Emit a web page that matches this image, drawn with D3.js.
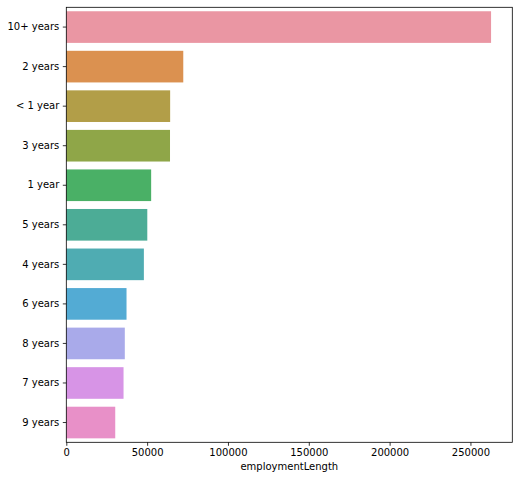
<!DOCTYPE html>
<html>
<head>
<meta charset="utf-8">
<script src="https://cdn.jsdelivr.net/npm/d3@7"></script>
<style>
  html, body { margin: 0; padding: 0; background: #fff; }
  svg { display: block; }
  text { font-family: "DejaVu Sans", sans-serif; }
</style>
</head>
<body>
<svg id="chart" width="519" height="480"></svg>
<script>
const categories = ["10+ years", "2 years", "< 1 year", "3 years", "1 year", "5 years", "4 years", "6 years", "8 years", "7 years", "9 years"];
const counts = [262753, 72358, 64237, 64152, 52489, 50102, 47985, 37254, 36192, 35407, 30272];
const barColors = ["#ea96a3", "#db9150", "#b29e48", "#8fa648", "#4ab066", "#4cac96", "#4facb2", "#53abd4", "#a9aaea", "#d794e6", "#e890c8"];
const xTicks = [0, 50000, 100000, 150000, 200000, 250000];
const xLabel = "employmentLength";

(function () {
const svg = d3.select("#chart");
const mLeft = 66.3, mRight = 512.3, mTop = 7.3, mBottom = 442.3;

const x = d3.scaleLinear().domain([0, d3.max(counts) * 1.05]).range([mLeft, mRight]);
const y = d3.scaleBand().domain(categories).range([mTop, mBottom]).paddingInner(0.2).paddingOuter(0.1);

svg.append("g").selectAll("rect")
  .data(categories)
  .join("rect")
  .attr("x", x(0))
  .attr("y", d => y(d))
  .attr("width", (d, i) => x(counts[i]) - x(0))
  .attr("height", y.bandwidth())
  .attr("fill", (d, i) => barColors[i]);

const xAxis = svg.append("g")
  .attr("transform", `translate(0,${mBottom})`)
  .call(d3.axisBottom(x).tickValues(xTicks).tickFormat(d3.format("d")).tickSize(3.5).tickPadding(3.5));
xAxis.select(".domain").remove();
xAxis.selectAll("text").attr("font-size", 10).attr("fill", "#000").attr("font-family", "DejaVu Sans");
xAxis.selectAll("line").attr("stroke", "#000").attr("stroke-width", 0.8);

const yAxis = svg.append("g")
  .attr("transform", `translate(${mLeft},0)`)
  .call(d3.axisLeft(y).tickSize(3.5).tickPadding(3.5));
yAxis.select(".domain").remove();
yAxis.selectAll("text").attr("font-size", 10).attr("fill", "#000").attr("font-family", "DejaVu Sans");
yAxis.selectAll("line").attr("stroke", "#000").attr("stroke-width", 0.8);

svg.append("rect")
  .attr("x", mLeft).attr("y", mTop)
  .attr("width", mRight - mLeft).attr("height", mBottom - mTop)
  .attr("fill", "none").attr("stroke", "#000").attr("stroke-width", 0.8);

svg.append("text")
  .attr("x", (mLeft + mRight) / 2)
  .attr("y", 470)
  .attr("text-anchor", "middle")
  .attr("font-size", 10)
  .attr("fill", "#000")
  .text(xLabel);
})();
</script>
</body>
</html>
